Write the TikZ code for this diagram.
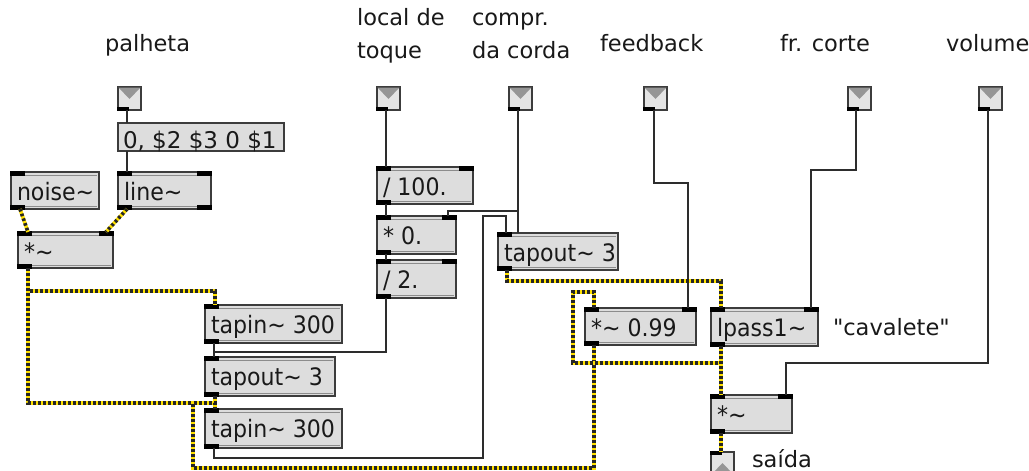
\documentclass[tikz,border=0pt]{standalone}
\usepackage{fontspec}
\setmainfont{DejaVu Sans}
\newfontfamily\mx{DejaVu Sans}
\newfontfamily\mxo{DejaVu Sans}[FakeStretch=0.92]
\definecolor{boxfill}{RGB}{221,221,221}
\definecolor{boxline}{RGB}{60,60,60}
\definecolor{hlgray}{RGB}{140,140,140}
\definecolor{yel}{RGB}{255,225,0}
\definecolor{cord}{RGB}{45,45,45}
\definecolor{trigray}{RGB}{150,150,150}
\definecolor{infill}{RGB}{228,228,228}
\tikzset{
 objbox/.style={draw=boxline, fill=boxfill, line width=1.2pt, inner sep=0pt, outer sep=0pt},
 msgbox/.style={draw=boxline, fill=boxfill, line width=1.2pt, inner sep=0pt, outer sep=0pt},
 inbox/.style={draw=boxline, fill=infill, line width=1.2pt, inner sep=0pt, outer sep=0pt, minimum width=23, minimum height=23},
 hl/.style={draw=hlgray, line width=1pt},
 bar/.style={fill=black},
 tri/.style={fill=trigray},
 txt/.style={inner sep=0pt, outer sep=0pt, text=black!90},
 otxt/.style={txt, font=\mxo\fontsize{24}{28}\selectfont},
 ctl/.style={draw=cord, line width=1.3pt},
 sig/.style={draw=black!85, line width=3.6pt, dash pattern=on 2.6pt off 2.4pt, preaction={draw=yel, solid, line width=3.6pt}},
}
\newcommand\mobj[8]{%
  \node[objbox, anchor=north west, minimum width={#4-#2}, minimum height={#5-#3}] (#1) at (#2,#3) {};
  \draw[hl] (#2+14,#3+3) -- (#4-2,#3+3);
  \draw[hl] (#2+14,#5-3) -- (#4-2,#5-3);
  \fill[bar] (#2-0.6,#3-0.6) rectangle (#2+14,#3+4);
  \ifnum#7>1\relax \fill[bar] (#4-14,#3-0.6) rectangle (#4+0.6,#3+4);\fi
  \fill[bar] (#2-0.6,#5+0.6) rectangle (#2+14,#5-4);
  \ifnum#8>1\relax \fill[bar] (#4-14,#5+0.6) rectangle (#4+0.6,#5-4);\fi
  \node[otxt, anchor=base west] (#1t) at (#2+6,#3+28) {#6};
}
\newcommand\minlet[3]{%
  \node[inbox, anchor=north west] (#1) at (#2,#3) {};
  \fill[tri] (#2+0.6,#3+0.6) -- (#2+22.4,#3+0.6) -- (#2+11.5,#3+12) -- cycle;
  \fill[bar] (#2-0.6,#3+23.6) rectangle (#2+11,#3+20);
}
\newcommand\moutlet[3]{%
  \node[inbox, anchor=north west] (#1) at (#2,#3) {};
  \fill[tri] (#2+0.6,#3+22.4) -- (#2+22.4,#3+22.4) -- (#2+11.5,#3+11) -- cycle;
  \fill[bar] (#2-0.6,#3-0.6) rectangle (#2+11,#3+3);
}
\begin{document}
\begin{tikzpicture}[x=1pt, y=-1pt, font=\mx\fontsize{22.5}{26}\selectfont]
\useasboundingbox (0,0) rectangle (1029,471);
\clip (0,0) rectangle (1029,471);
\fill[white] (0,0) rectangle (1029,471);

% labels
\node[txt, anchor=base west] (lPal) at (105,51) {palheta};
\node[txt, anchor=base west] (lLoc1) at (357,25) {local de};
\node[txt, anchor=base west] (lLoc2) at (357,58) {toque};
\node[txt, anchor=base west] (lCmp1) at (472,25) {compr.};
\node[txt, anchor=base west] (lCmp2) at (472,58) {da corda};
\node[txt, anchor=base west] (lFb) at (600,51) {feedback};
\node[txt, anchor=base west] (lFr) at (780,51) {fr. corte};
\node[txt, anchor=base west] (lVol) at (946,51) {volume};
\node[txt, anchor=base west] (lCav) at (833,335) {"cavalete"};
\node[txt, anchor=base west] (lSai) at (752,467) {saída};

% inlets / outlet
\minlet{iPal}{118}{87}
\minlet{iLoc}{377}{87}
\minlet{iCmp}{509}{87}
\minlet{iFb}{644}{87}
\minlet{iFr}{848}{87}
\minlet{iVol}{979}{87}
\moutlet{oOut}{711}{452}

% message box
\node[msgbox, anchor=north west, minimum width=166, minimum height=28] (msg) at (118,123) {};
\node[txt, anchor=base west, font=\mx\fontsize{23}{27}\selectfont] (msgt) at (123,148) {0, \$2 \$3 0 \$1};

% objects
\mobj{noise}{11}{172}{99}{209}{noise\textasciitilde}{1}{1}
\mobj{line}{118}{172}{211}{209}{line\textasciitilde}{2}{2}
\mobj{mulL}{18}{232}{113}{268}{*\textasciitilde}{2}{1}
\mobj{dA}{377}{167}{473}{204}{/ 100.}{2}{1}
\mobj{mZ}{377}{216}{456}{254}{* 0.}{2}{1}
\mobj{dB}{377}{260}{456}{298}{/ 2.}{2}{1}
\mobj{toR}{498}{233}{618}{270}{tapout\textasciitilde{} 3}{1}{1}
\mobj{tiA}{205}{305}{342}{343}{tapin\textasciitilde{} 300}{1}{1}
\mobj{toL}{205}{357}{335}{396}{tapout\textasciitilde{} 3}{1}{1}
\mobj{tiB}{205}{409}{342}{448}{tapin\textasciitilde{} 300}{1}{1}
\mobj{mul99}{585}{308}{696}{345}{*\textasciitilde{} 0.99}{2}{1}
\mobj{lp}{711}{308}{818}{346}{lpass1\textasciitilde}{2}{1}
\mobj{mulR}{711}{395}{792}{433}{*\textasciitilde}{2}{1}

% control cords
\draw[ctl] ([xshift=9pt]iPal.south west) -- ([xshift=9pt]msg.north west);
\draw[ctl] ([xshift=9pt]msg.south west) -- ([xshift=9pt]line.north west);
\draw[ctl] ([xshift=9pt]iLoc.south west) -- ([xshift=9pt]dA.north west);
\draw[ctl] ([xshift=9pt]dA.south west) -- ([xshift=9pt]mZ.north west);
\draw[ctl] ([xshift=9pt]mZ.south west) -- ([xshift=9pt]dB.north west);
\draw[ctl] ([xshift=9pt]dB.south west) -- ++(0,54) -| ([xshift=9pt]toL.north west);
\draw[ctl] ([xshift=9pt]tiA.south west) -- ([xshift=9pt]toL.north west);
\draw[ctl] ([xshift=9pt]iCmp.south west) -- ([xshift=20pt]toR.north west);
\draw[ctl] ([xshift=9pt]iCmp.south west) -- ++(0,101) -| ([xshift=-8pt]mZ.north east);
\draw[ctl] ([xshift=9pt]tiB.south west) -- ++(0,10) -| (483,216) -| ([xshift=8pt]toR.north west);
\draw[ctl] ([xshift=10pt]iFb.south west) -- ++(0,73) -| ([xshift=-8pt]mul99.north east);
\draw[ctl] ([xshift=8pt]iFr.south west) -- ++(0,60) -| ([xshift=-7pt]lp.north east);
\draw[ctl] ([xshift=9pt]iVol.south west) -- ++(0,253) -| ([xshift=-6pt]mulR.north east);

% signal cords
\draw[sig] ([xshift=9pt]noise.south west) -- ([xshift=10pt]mulL.north west);
\draw[sig] ([xshift=9pt]line.south west) -- ([xshift=-7pt]mulL.north east);
\draw[sig] ([xshift=10pt]mulL.south west) -- ++(0,23) -| ([xshift=10pt]tiA.north west);
\draw[sig] ([xshift=10pt]mulL.south west) -- ++(0,135) -| ([xshift=10pt]tiB.north west);
\draw[sig] ([xshift=10pt]toL.south west) -- ([xshift=10pt]tiB.north west);
\draw[sig] ([xshift=9pt]mul99.south west) -- ++(0,123) -| (193,403) -| ([xshift=10pt]tiB.north west);
\draw[sig] ([xshift=9pt]toR.south west) -- ++(0,11) -| ([xshift=10pt]lp.north west);
\draw[sig] ([xshift=10pt]lp.south west) -- ++(0,17) -| (573,292) -| ([xshift=9pt]mul99.north west);
\draw[sig] ([xshift=10pt]lp.south west) -- ([xshift=10pt]mulR.north west);
\draw[sig] ([xshift=10pt]mulR.south west) -- ([xshift=10pt]oOut.north west);
\end{tikzpicture}
\end{document}
